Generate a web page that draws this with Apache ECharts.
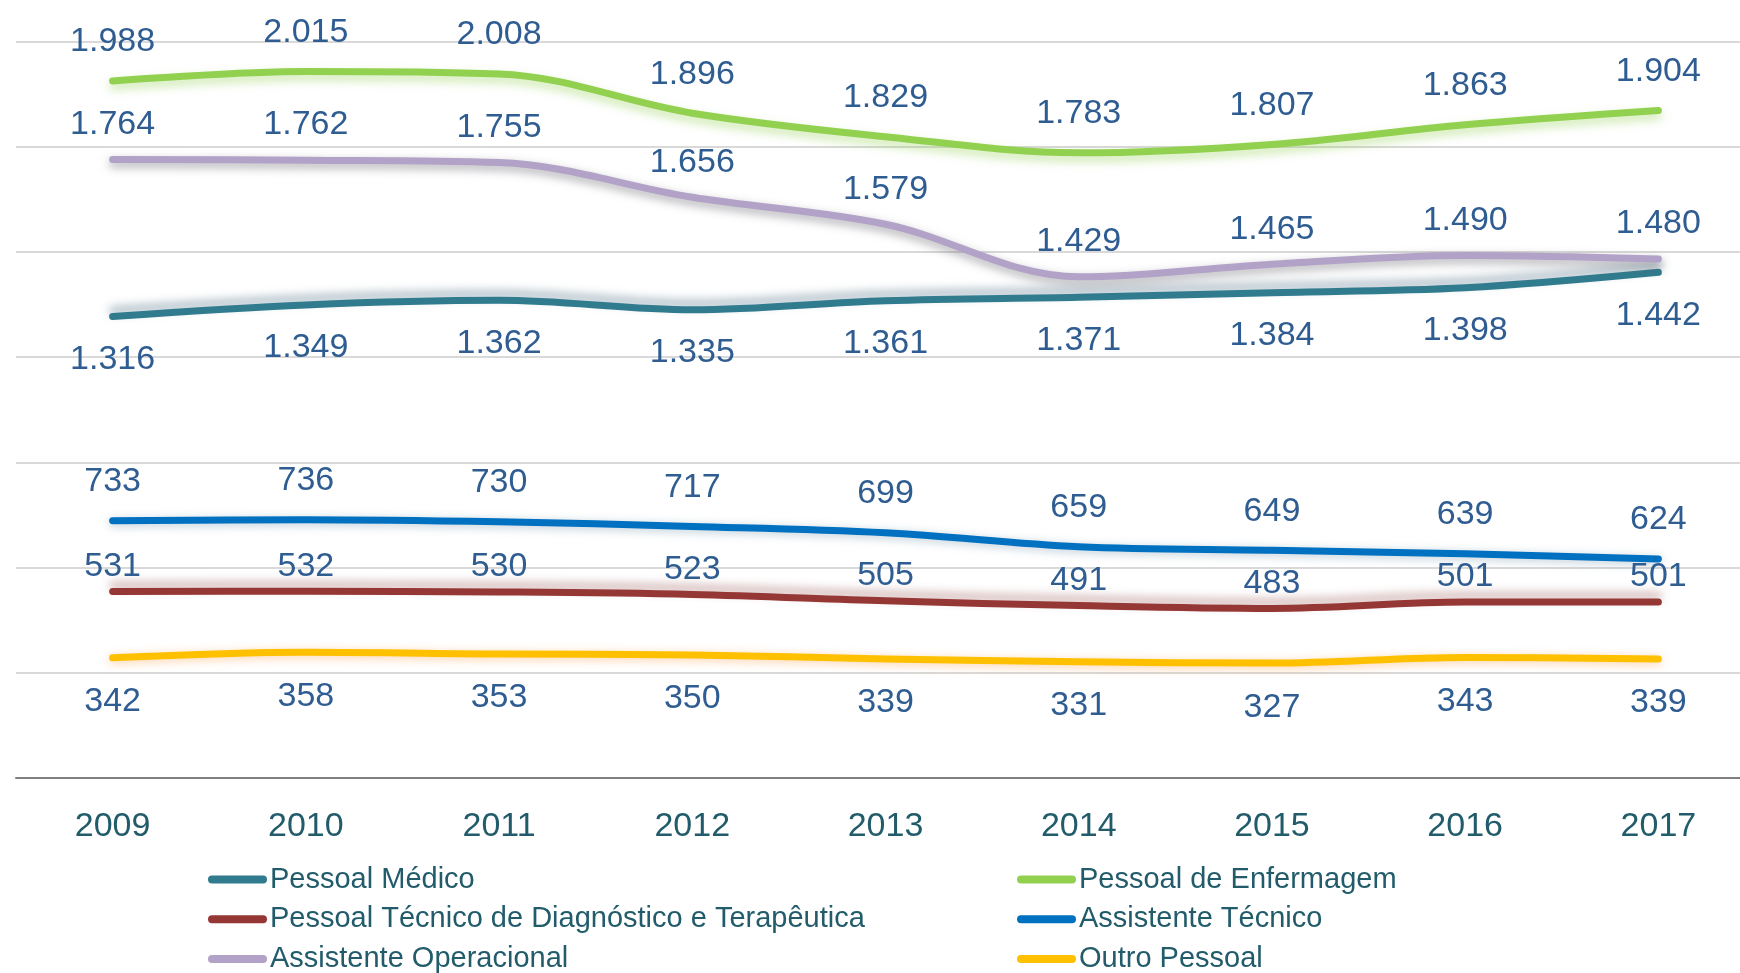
<!DOCTYPE html>
<html>
<head>
<meta charset="utf-8">
<script src="https://cdn.jsdelivr.net/npm/echarts@6/dist/echarts.min.js"></script>
<style>
html,body{margin:0;padding:0;background:#fff;}
#chart{width:1740px;height:973px;}
</style>
</head>
<body>
<div id="chart"></div>
<script>
// ---- data ----
const years = ['2009','2010','2011','2012','2013','2014','2015','2016','2017'];
const pessoalMedico = [1316,1349,1362,1335,1361,1371,1384,1398,1442];
const pessoalEnfermagem = [1988,2015,2008,1896,1829,1783,1807,1863,1904];
const pessoalTDT = [531,532,530,523,505,491,483,501,501];
const assistenteTecnico = [733,736,730,717,699,659,649,639,624];
const assistenteOperacional = [1764,1762,1755,1656,1579,1429,1465,1490,1480];
const outroPessoal = [342,358,353,350,339,331,327,343,339];

const names = {
  med: 'Pessoal Médico',
  enf: 'Pessoal de Enfermagem',
  tdt: 'Pessoal Técnico de Diagnóstico e Terapêutica',
  at: 'Assistente Técnico',
  ao: 'Assistente Operacional',
  out: 'Outro Pessoal'
};

const FONT = '"Liberation Sans", Arial, sans-serif';
const LABEL_COLOR = '#2F5D92';
const TEXT_TEAL = '#225C6B';

function fmt(v) {
  if (v >= 1000) {
    return Math.floor(v / 1000) + '.' + String(v % 1000).padStart(3, '0');
  }
  return String(v);
}

function mkSeries(name, data, color, pos, dist, shadowColor, shadowY) {
  return {
    name: name,
    type: 'line',
    data: data,
    smooth: 0.35,
    symbol: 'circle',
    symbolSize: 0.1,
    showSymbol: true,
    itemStyle: { color: color },
    lineStyle: {
      color: color, width: 7, cap: 'round', join: 'round',
      shadowColor: shadowColor, shadowBlur: 10, shadowOffsetY: shadowY
    },
    emphasis: { disabled: true },
    label: {
      show: true,
      position: pos,
      distance: dist,
      formatter: p => fmt(p.value),
      fontFamily: FONT,
      fontSize: 34,
      lineHeight: 34,
      color: LABEL_COLOR
    }
  };
}

const chart = echarts.init(document.getElementById('chart'), null, { renderer: 'canvas' });

const legendIcon = 'path://M4 0H55A4 4 0 0 1 55 8H4A4 4 0 0 1 4 0Z';
const legendCommon = {
  orient: 'vertical',
  top: 865,
  height: 140,
  padding: 0,
  itemWidth: 59,
  itemHeight: 8,
  itemGap: 10.7,
  icon: legendIcon,
  textStyle: { fontFamily: FONT, fontSize: 29, lineHeight: 28, color: TEXT_TEAL, padding: [0,0,0,-2] },
  selectedMode: false
};

chart.setOption({
  animation: false,
  backgroundColor: '#ffffff',
  grid: { left: 16, top: 41.7, width: 1739, bottom: 195.3, outerBoundsMode: 'none', containLabel: false },
  xAxis: {
    type: 'category',
    data: years,
    boundaryGap: true,
    axisTick: { show: false },
    axisLine: { show: true, lineStyle: { color: '#7F7F7F', width: 2 } },
    axisLabel: { margin: 32, fontFamily: FONT, fontSize: 34, lineHeight: 34, color: TEXT_TEAL },
    splitLine: { show: false }
  },
  yAxis: {
    type: 'value',
    min: 0,
    max: 2100,
    interval: 300,
    axisLabel: { show: false },
    axisLine: { show: false },
    axisTick: { show: false },
    splitLine: { show: true, lineStyle: { color: '#D9D9D9', width: 2 } }
  },
  legend: [
    Object.assign({}, legendCommon, { left: 208, data: [names.med, names.tdt, names.ao] }),
    Object.assign({}, legendCommon, { left: 1017, data: [names.enf, names.at, names.out] })
  ],
  series: [
    mkSeries(names.med, pessoalMedico, '#317B8E', 'bottom', 26, 'rgba(90,120,140,0.55)', -6),
    mkSeries(names.enf, pessoalEnfermagem, '#92D050', 'top', 22, 'rgba(146,208,80,0.5)', 5),
    mkSeries(names.tdt, pessoalTDT, '#953735', 'top', 8, 'rgba(149,80,80,0.45)', -6),
    mkSeries(names.at, assistenteTecnico, '#0070C0', 'top', 22, 'rgba(60,110,140,0.35)', 2),
    mkSeries(names.ao, assistenteOperacional, '#B3A2C7', 'top', 18, 'rgba(90,90,100,0.5)', 4),
    mkSeries(names.out, outroPessoal, '#FFC000', 'bottom', 27, 'rgba(255,150,60,0.45)', 2)
  ]
});
</script>
</body>
</html>
